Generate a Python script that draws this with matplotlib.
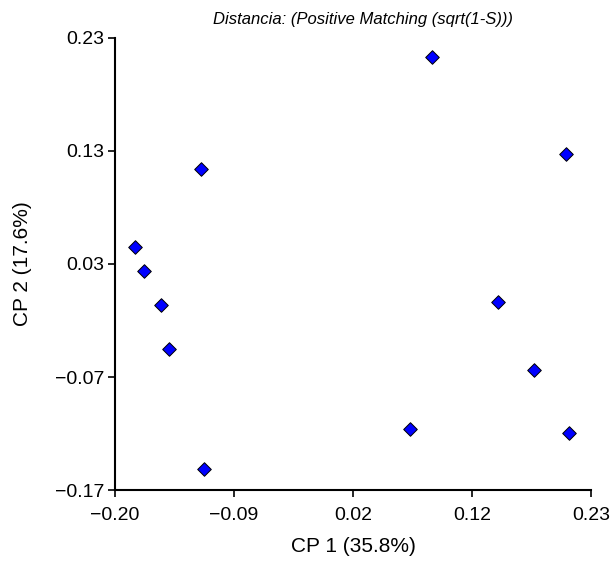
import numpy as np
import matplotlib
matplotlib.use('Agg')
import matplotlib.pyplot as plt

plt.rcParams['font.family'] = ['Liberation Sans', 'DejaVu Sans']

# coordenadas de los puntos (CP1, CP2)
cp1 = [0.0866, 0.2077, -0.1223, -0.1819, -0.1735, -0.1584, -0.1512,
       0.1457, 0.1782, 0.0662, 0.2099, -0.1193]
cp2 = [0.2135, 0.1276, 0.1143, 0.0453, 0.0238, -0.0065, -0.0455,
       -0.0034, -0.0635, -0.1158, -0.1193, -0.1511]

xlim = (-0.20, 0.23)
ylim = (-0.17, 0.23)
xtick_labels = ['\u22120.20', '\u22120.09', '0.02', '0.12', '0.23']
ytick_labels = ['\u22120.17', '\u22120.07', '0.03', '0.13', '0.23']

fig = plt.figure(figsize=(6.13, 5.62), dpi=100)
ax = fig.add_axes([0.1876, 0.1281, 0.7765, 0.8043])

ax.scatter(cp1, cp2, marker='D', s=48, color='#0000ff', edgecolors='black',
           linewidths=0.7, zorder=3)

ax.set_xlim(xlim)
ax.set_ylim(ylim)
ax.set_xticks(np.linspace(xlim[0], xlim[1], 5))
ax.set_xticklabels(xtick_labels)
ax.set_yticks(np.linspace(ylim[0], ylim[1], 5))
ax.set_yticklabels(ytick_labels)

for s in ['top', 'right']:
    ax.spines[s].set_visible(False)
for s in ['left', 'bottom']:
    ax.spines[s].set_linewidth(1.5)
ax.tick_params(direction='out', length=5, width=1.2, labelsize=14)
ax.tick_params(axis='x', pad=7)
ax.tick_params(axis='y', pad=3)

ax.set_xlabel('CP 1 (35.8%)', fontsize=15)
ax.set_ylabel('CP 2 (17.6%)', fontsize=15)
ax.xaxis.set_label_coords(0.5, -0.104)
ax.yaxis.set_label_coords(-0.174, 0.5)
ax.set_title('Distancia: (Positive Matching (sqrt(1-S)))', fontsize=12,
             style='italic', pad=10, x=0.52)

fig.savefig('out.png', dpi=100)
